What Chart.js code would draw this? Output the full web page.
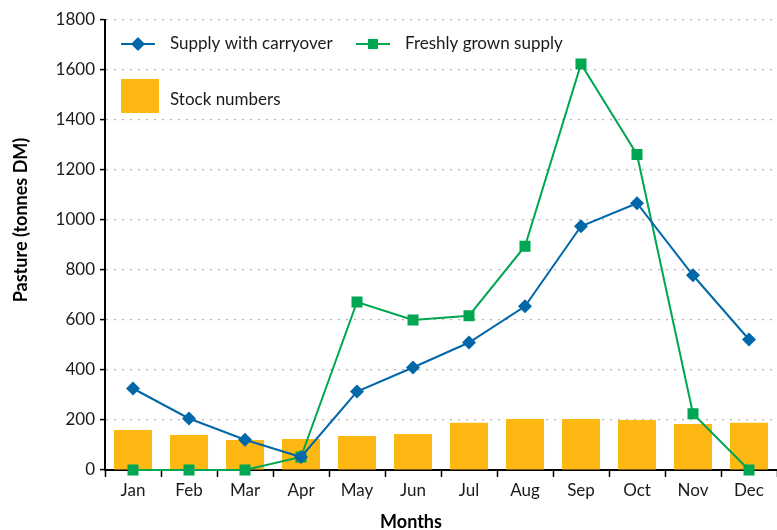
<!DOCTYPE html>
<html>
<head>
<meta charset="utf-8">
<script src="https://cdn.jsdelivr.net/npm/chart.js@4"></script>
<style>
html,body{margin:0;padding:0;background:#fff;}
#wrap{width:777px;height:530px;position:relative;}
</style>
</head>
<body>
<div id="wrap"><canvas id="c" width="777" height="530"></canvas></div>
<script>
const months = ["Jan","Feb","Mar","Apr","May","Jun","Jul","Aug","Sep","Oct","Nov","Dec"];
const supplyWithCarryover = [326, 206, 121, 52, 314, 410, 510, 655, 975, 1067, 779, 522];
const freshlyGrownSupply = [0, 0, 0, 52, 672, 600, 617, 895, 1624, 1262, 225, 0];
const stockNumbers = [160, 140, 120, 124, 136, 144, 189, 204, 204, 200, 184, 189];
const yTicks = [0, 200, 400, 600, 800, 1000, 1200, 1400, 1600, 1800];

const BLUE = "#0067a8";
const GREEN = "#00a651";
const ORANGE = "#fdb813";
const FONT = "Lato, 'Open Sans', sans-serif";

const overlay = {
  id: "overlay",
  afterDraw(chart) {
    const ctx = chart.ctx;
    ctx.save();
    ctx.font = "17px " + FONT;
    ctx.fillStyle = "#1a1a1a";
    ctx.textBaseline = "middle";
    ctx.textAlign = "left";
    ctx.strokeStyle = BLUE; ctx.lineWidth = 2;
    ctx.beginPath(); ctx.moveTo(121, 44); ctx.lineTo(155, 44); ctx.stroke();
    ctx.fillStyle = BLUE;
    ctx.beginPath(); ctx.moveTo(138, 37); ctx.lineTo(145, 44); ctx.lineTo(138, 51); ctx.lineTo(131, 44); ctx.closePath(); ctx.fill();
    ctx.fillStyle = "#1a1a1a";
    ctx.fillText("Supply with carryover", 170, 44);
    ctx.strokeStyle = GREEN;
    ctx.beginPath(); ctx.moveTo(356, 44); ctx.lineTo(390, 44); ctx.stroke();
    ctx.fillStyle = GREEN;
    ctx.fillRect(368, 39, 10, 10);
    ctx.fillStyle = "#1a1a1a";
    ctx.fillText("Freshly grown supply", 405, 44);
    ctx.fillStyle = ORANGE;
    ctx.fillRect(121, 79, 38, 34);
    ctx.fillStyle = "#1a1a1a";
    ctx.fillText("Stock numbers", 170, 100);
    ctx.font = "bold 18px " + FONT;
    ctx.fillStyle = "#000";
    ctx.textAlign = "center";
    ctx.fillText("Months", 411, 522);
    ctx.translate(21, 220);
    ctx.rotate(-Math.PI / 2);
    ctx.fillText("Pasture (tonnes DM)", 0, 0);
    ctx.restore();
  }
};

new Chart(document.getElementById("c"), {
  data: {
    labels: months,
    datasets: [
      {
        type: "line",
        label: "Supply with carryover",
        data: supplyWithCarryover,
        borderColor: BLUE,
        backgroundColor: BLUE,
        borderWidth: 2,
        pointStyle: "rectRot",
        pointRadius: 7,
        pointBorderWidth: 0,
        tension: 0,
        clip: false,
        order: 1
      },
      {
        type: "line",
        label: "Freshly grown supply",
        data: freshlyGrownSupply,
        borderColor: GREEN,
        backgroundColor: GREEN,
        borderWidth: 2,
        pointStyle: "rect",
        pointRadius: 7.8,
        pointBorderWidth: 0,
        tension: 0,
        clip: false,
        order: 2
      },
      {
        type: "bar",
        label: "Stock numbers",
        data: stockNumbers,
        backgroundColor: ORANGE,
        borderWidth: 0,
        barPercentage: 0.68,
        categoryPercentage: 1,
        order: 3
      }
    ]
  },
  options: {
    responsive: false,
    animation: false,
    layout: { autoPadding: false, padding: { top: 20, right: 0, left: 0, bottom: 0 } },
    plugins: { legend: { display: false }, tooltip: { enabled: false } },
    scales: {
      x: {
        type: "category",
        offset: true,
        afterFit(s) { s.height = 60; },
        grid: { display: true, drawOnChartArea: false, drawTicks: true, tickLength: 7, tickColor: "#000", tickWidth: 1.5, offset: true },
        border: { display: true, color: "#000", width: 2 },
        ticks: { color: "#1a1a1a", font: { family: FONT, size: 17 }, padding: 3, maxRotation: 0 }
      },
      y: {
        min: 0,
        max: 1800,
        afterFit(s) { s.width = 105; },
        afterBuildTicks(s) { s.ticks = yTicks.map(v => ({ value: v })); },
        grid: { color: "#b0b0b0", lineWidth: 1.2, drawTicks: true, tickLength: 5, tickColor: "#000", tickWidth: 1.5, tickBorderDash: [] },
        border: { display: true, color: "#000", width: 2, dash: [2, 6] },
        ticks: { color: "#1a1a1a", font: { family: FONT, size: 17 }, padding: 5, callback: v => String(v) }
      }
    }
  },
  plugins: [overlay]
});
</script>
</body>
</html>
